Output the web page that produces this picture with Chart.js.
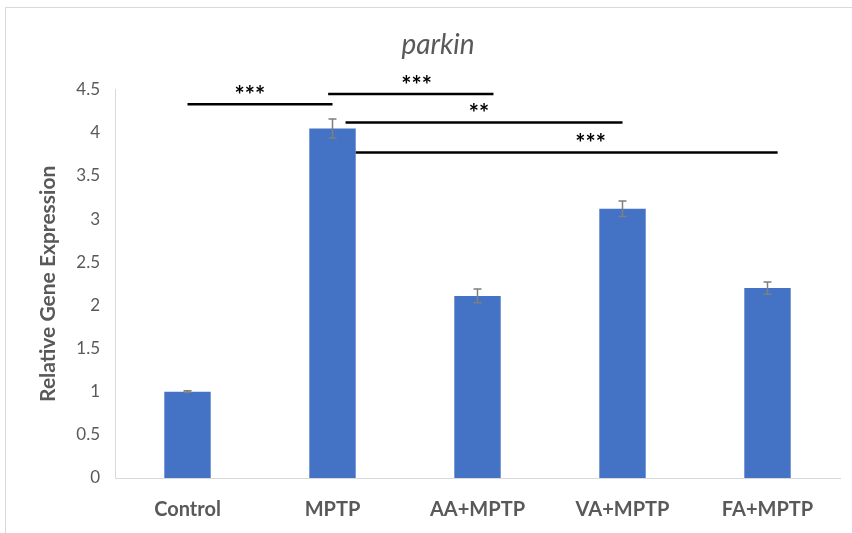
<!DOCTYPE html>
<html>
<head>
<meta charset="utf-8">
<script src="https://cdn.jsdelivr.net/npm/chart.js@4/dist/chart.umd.min.js"></script>
<style>
  html, body { margin: 0; padding: 0; background: #fff; }
  #wrap { width: 852px; height: 533px; position: relative; }
</style>
</head>
<body>
<div id="wrap"><canvas id="parkinChart" width="852" height="533"></canvas></div>
<script>
const categories = ['Control', 'MPTP', 'AA+MPTP', 'VA+MPTP', 'FA+MPTP'];
const expression = [1.0, 4.05, 2.11, 3.12, 2.2];
const errors = [0.01, 0.11, 0.08, 0.09, 0.07];

// significance brackets: from / to / label spot (category index), height (data units), label
const sigFrom = [0, 0.97, 1.09, 1.16];
const sigTo = [1.0, 2.11, 3.0, 4.07];
const sigLabelAt = [0.43, 1.58, 2.01, 2.78];
const sigLevel = [4.33, 4.45, 4.12, 3.77];
const sigLabel = ['***', '***', '**', '***'];

const FONT = 'Lato, "Open Sans", sans-serif';
const GREY = '#595959';

const framePlugin = {
    id: 'frame',
    beforeDraw(chart) {
        const c = chart.ctx;
        c.save();
        c.strokeStyle = '#d9d9d9';
        c.lineWidth = 1;
        c.strokeRect(5.5, 7.5, 900, 600);
        c.restore();
    }
};

const errorBarPlugin = {
    id: 'errorBars',
    afterDatasetsDraw(chart) {
        const c = chart.ctx;
        const x = chart.scales.x, y = chart.scales.y;
        c.save();
        c.strokeStyle = '#7f7f7f';
        c.lineWidth = 1.5;
        expression.forEach((v, i) => {
            const px = x.getPixelForValue(i);
            const top = y.getPixelForValue(v + errors[i]);
            const bot = y.getPixelForValue(v - errors[i]);
            c.beginPath();
            c.moveTo(px, top); c.lineTo(px, bot);
            c.moveTo(px - 4, top); c.lineTo(px + 4, top);
            c.moveTo(px - 4, bot); c.lineTo(px + 4, bot);
            c.stroke();
        });
        c.restore();
    }
};

const sigPlugin = {
    id: 'significance',
    afterDraw(chart) {
        const c = chart.ctx;
        const x = chart.scales.x, y = chart.scales.y;
        const step = x.getPixelForValue(1) - x.getPixelForValue(0);
        const toPx = v => x.getPixelForValue(0) + v * step;
        c.save();
        c.strokeStyle = '#000';
        c.lineWidth = 2.5;
        c.fillStyle = '#000';
        c.font = 'bold 24px ' + FONT;
        c.textAlign = 'center';
        c.textBaseline = 'middle';
        sigLevel.forEach((lv, i) => {
            const x1 = toPx(sigFrom[i]), x2 = toPx(sigTo[i]);
            const py = y.getPixelForValue(lv);
            c.beginPath();
            c.moveTo(x1, py); c.lineTo(x2, py);
            c.stroke();
            c.fillText(sigLabel[i], toPx(sigLabelAt[i]), py - 8);
        });
        c.restore();
    }
};

const ctx = document.getElementById('parkinChart').getContext('2d');
const parkinChart = new Chart(ctx, {
    type: 'bar',
    data: {
        labels: categories,
        datasets: [{
            data: expression,
            backgroundColor: '#4472c4',
            categoryPercentage: 1,
            barPercentage: 0.32
        }]
    },
    options: {
        responsive: false,
        animation: false,
        layout: {
            padding: { left: 36, right: 12, top: 0, bottom: 0 }
        },
        scales: {
            y: {
                min: 0,
                max: 4.5,
                ticks: {
                    stepSize: 0.5,
                    padding: 15,
                    color: GREY,
                    font: { family: FONT, size: 17 },
                    callback: v => String(v)
                },
                grid: { display: false, drawTicks: false },
                border: { display: true, color: '#d9d9d9', width: 1 },
                title: {
                    display: true,
                    text: 'Relative Gene Expression',
                    color: GREY,
                    padding: 0,
                    font: { family: FONT, size: 21, weight: 'bold' }
                },
                afterFit(scale) { scale.width = 79; }
            },
            x: {
                ticks: {
                    padding: 20,
                    color: GREY,
                    font: { family: FONT, size: 20, weight: 'bold' }
                },
                grid: { display: false, drawTicks: false },
                border: { display: true, color: '#d9d9d9', width: 1 },
                afterFit(scale) { scale.height = 55; }
            }
        },
        plugins: {
            legend: { display: false },
            tooltip: { enabled: false },
            title: {
                display: true,
                text: 'parkin',
                color: GREY,
                padding: { top: 28, bottom: 28 },
                font: { family: FONT, size: 28, style: 'italic', weight: 'normal' }
            }
        }
    },
    plugins: [framePlugin, errorBarPlugin, sigPlugin]
});
</script>
</body>
</html>
